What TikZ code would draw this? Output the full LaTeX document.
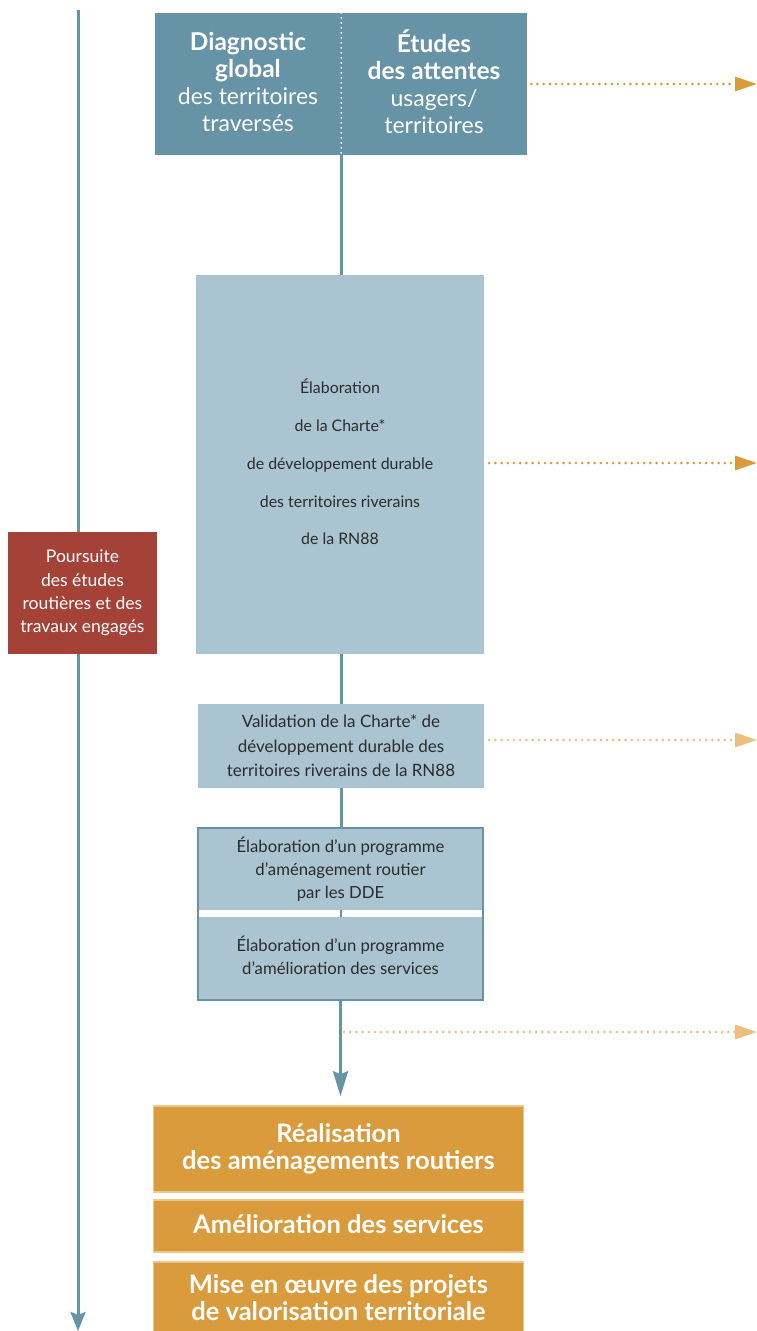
\documentclass[tikz,border=0pt]{standalone}
\usepackage{fontspec}
\setmainfont{Lato}
\usetikzlibrary{arrows.meta}
\definecolor{dblue}{HTML}{6793A6}
\definecolor{lblue}{HTML}{ABC4D1}
\definecolor{rbox}{HTML}{A44238}
\definecolor{obox}{HTML}{D99B3C}
\definecolor{oedge}{HTML}{EFC78E}
\definecolor{larrow}{HTML}{EDBF7C}
\definecolor{txt}{HTML}{2B2B2B}
\newcommand{\bigb}[1]{{\bfseries\fontsize{24.5}{27}\selectfont #1}}
\begin{document}
\begin{tikzpicture}[x=1pt,y=-1pt,
  boxbase/.style={inner sep=0pt, align=center, anchor=center},
  lbl/.style={inner sep=0pt, align=center, anchor=center},
  topbox/.style={boxbase, fill=dblue, minimum width=186pt, minimum height=142pt},
  toptext/.style={lbl, text=white, font=\fontsize{23}{27}\selectfont},
  chartebox/.style={boxbase, fill=lblue, text=txt},
  progbox/.style={boxbase, fill=lblue, text=txt, minimum width=285pt,
     font=\fontsize{16.7}{22.7}\selectfont},
  redbox/.style={boxbase, fill=rbox, text=white, minimum width=149pt, minimum height=122pt,
     font=\fontsize{17.5}{23.3}\selectfont},
  orbox/.style={boxbase, fill=obox, draw=oedge, line width=1.5pt, text=white, minimum width=370pt,
     font=\bfseries\fontsize{25.5}{27.5}\selectfont},
  blueline/.style={draw=dblue, line width=3pt},
  dotarrow/.style={draw=#1, line width=2.9pt, line cap=round, dash pattern=on 0pt off 6.2pt,
     -{Triangle[length=22pt,width=14pt,line cap=butt,fill=#1,color=#1]}},
]
\useasboundingbox (0,0) rectangle (757,1331);
\fill[white] (0,0) rectangle (757,1331);

% left timeline
\coordinate (ltop) at (78,10);
\coordinate (lbot) at (78,1331);
\draw[blueline, -{Stealth[length=19pt,width=15pt,inset=3pt]}] (ltop) -- (lbot);

% top box
\node[topbox] (diag) at (248,84) {};
\node[topbox] (etud) at (434,84) {};
\node[toptext] (diagt) at (248,81.5) {\bigb{Diagnostic}\\ \bigb{global}\\ des territoires\\ traversés};
\node[toptext] (etudt) at (434,81.5) {\bigb{Études}\\ \bigb{des attentes}\\ usagers/\\ territoires};
\draw[white, line width=2pt, line cap=round, dash pattern=on 0pt off 5pt] (diag.north east) -- (diag.south east);

% charte box
\node[chartebox, minimum width=288pt, minimum height=379pt] (charte) at (340,464.5) {};
\node[lbl, text=txt, font=\fontsize{15.9}{37.75}\selectfont] (chartet) at (340,462)
  {Élaboration\\ de la Charte*\\ de développement durable\\ des territoires riverains\\ de la RN88};

% red box
\node[redbox] (red) at (82.5,593) {Poursuite\\ des études\\ routières et des\\ travaux engagés};

% validation
\node[chartebox, minimum width=286pt, minimum height=84pt, font=\fontsize{17}{24.5}\selectfont]
  (valid) at (341,746) {Validation de la Charte* de\\ développement durable des\\ territoires riverains de la RN88};

% programme boxes
\node[progbox, minimum height=82pt] (prog1) at (340.5,869)
  {Élaboration d’un programme\\ d’aménagement routier\\ par les DDE};
\node[progbox, minimum height=83pt] (prog2) at (340.5,958.5) {};
\node[lbl, text=txt, font=\fontsize{16.7}{22.7}\selectfont] (prog2t) at (340.5,955.5)
  {Élaboration d’un programme\\ d’amélioration des services};
\draw[dblue, line width=1.5pt] (prog1.north west) rectangle (prog2.south east);

% orange boxes
\node[orbox, minimum height=86pt] (real) at (338.5,1149) {Réalisation\\ des aménagements routiers};
\node[orbox, minimum height=52pt] (amel) at (338.5,1226) {};
\node[lbl, text=white, font=\bfseries\fontsize{25.5}{27.5}\selectfont] (amelt) at (338.5,1224.5) {Amélioration des services};
\node[orbox, minimum height=72pt, anchor=north] (mise) at (338.5,1261) {Mise en œuvre des projets\\ de valorisation territoriale};

% central connectors
\draw[blueline] (diag.south east) -- (diag.south east |- charte.north);
\draw[blueline] (charte.south -| valid.north) -- (valid.north);
\draw[blueline] (valid.south) -- (valid.south |- prog1.north);
\draw[blueline, line width=2pt] (prog1.south) -- (prog2.north);
\draw[blueline, shorten >=9pt, -{Stealth[length=25pt,width=15pt,inset=3pt]}] (prog2.south) -- (prog2.south |- real.north);

% dotted arrows
\coordinate (a1) at (757,84);
\coordinate (a2) at (757,463);
\coordinate (a3) at (757,740);
\coordinate (a4) at (757,1032);
\coordinate (p4) at (344,1032);
\draw[dotarrow=obox] ([xshift=4pt]etud.east |- a1) -- (a1);
\draw[dotarrow=obox] ([xshift=5pt]charte.east |- a2) -- (a2);
\draw[dotarrow=larrow] ([xshift=5pt]valid.east |- a3) -- (a3);
\draw[dotarrow=larrow] (p4) -- (a4);
\end{tikzpicture}
\end{document}
